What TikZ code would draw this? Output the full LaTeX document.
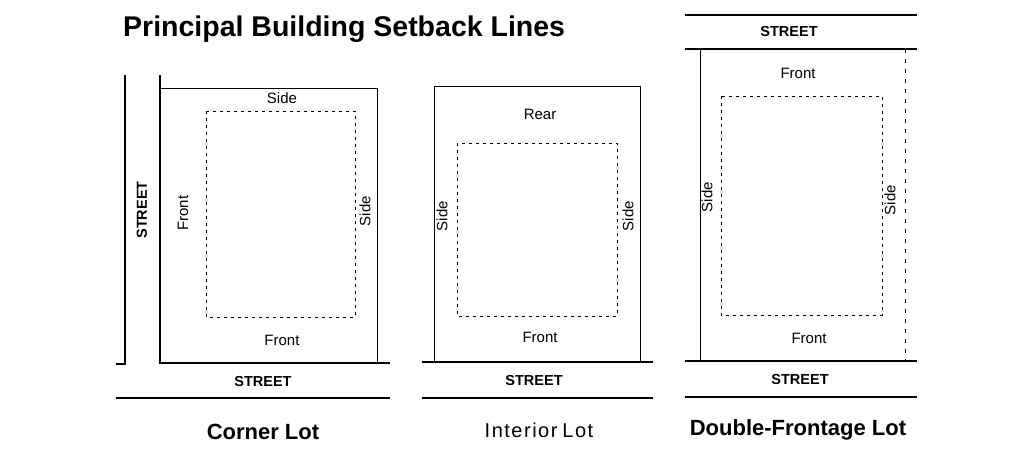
\documentclass[tikz,border=0pt]{standalone}
\usepackage{fontspec}
\setmainfont{Liberation Sans}
\begin{document}
\begin{tikzpicture}[x=1pt,y=-1pt,
  thickline/.style={line width=2.6pt},
  lotline/.style={line width=1pt},
  setback/.style={line width=1pt,dash pattern=on 3pt off 4pt},
  lbl/.style={font=\fontsize{15}{17}\selectfont,inner sep=0pt},
  st/.style={font=\fontsize{14.5}{17}\selectfont\bfseries,inner sep=0pt},
  captionlbl/.style={font=\fontsize{22}{24}\selectfont\bfseries,inner sep=0pt}]
\useasboundingbox (0,0) rectangle (1011,458);
\node[font=\fontsize{28.5}{32}\selectfont\bfseries,inner sep=0pt,anchor=west] (title) at (123,29) {Principal Building Setback Lines};

% ---- Corner lot
\coordinate (cs1) at (125,75);
\coordinate (cs2) at (125,364);
\coordinate (cs3) at (116,364);
\draw[thickline] (cs1) -- (cs2) -- (cs3);
\coordinate (ca) at (160,75);
\coordinate (cb) at (160,363);
\coordinate (cc) at (390,363);
\draw[thickline] (ca) -- (cb) -- (cc);
\coordinate (ct1) at (160,88);
\coordinate (ct2) at (377,88);
\coordinate (ct3) at (377,363);
\draw[lotline] (ct1) -- (ct2) -- (ct3);
\coordinate (cl1) at (116,398);
\coordinate (cl2) at (390,398);
\draw[thickline] (cl1) -- (cl2);
\draw[setback] (206,111) rectangle (355,317);
\node[st,rotate=90] (cstv) at (142,210) {STREET};
\node[st] (csth) at (263,382) {STREET};
\node[lbl] (cside1) at (282,98) {Side};
\node[lbl,rotate=90] (cfront1) at (183,213) {Front};
\node[lbl,rotate=90] (cside2) at (365,211) {Side};
\node[lbl] (cfront2) at (282,340) {Front};
\node[captionlbl] (ccap) at (263,432) {Corner Lot};

% ---- Interior lot
\draw[lotline] (434,362) -- (434,86) -- (640,86) -- (640,362);
\coordinate (ia) at (422,362);
\coordinate (ib) at (653,362);
\draw[thickline] (ia) -- (ib);
\coordinate (ic) at (422,398);
\coordinate (id) at (653,398);
\draw[thickline] (ic) -- (id);
\draw[setback] (457,143) rectangle (617,316);
\node[lbl] (irear) at (540,114) {Rear};
\node[lbl,rotate=90] (iside1) at (442,216) {Side};
\node[lbl,rotate=90] (iside2) at (628,216) {Side};
\node[lbl] (ifront) at (540,337) {Front};
\node[st] (ist) at (534,381) {STREET};
\node[font=\fontsize{20}{22}\selectfont,inner sep=0pt] (icap) at (539,430) {I\kern1.5pt n\kern1.5pt t\kern1.5pt e\kern1.5pt r\kern1.5pt i\kern1.5pt o\kern1.5pt r\kern5pt L\kern1.5pt o\kern1.5pt t};

% ---- Double-frontage lot
\coordinate (da) at (685,15);
\coordinate (db) at (917,15);
\draw[thickline] (da) -- (db);
\coordinate (dc) at (685,49);
\coordinate (dd) at (917,49);
\draw[thickline] (dc) -- (dd);
\draw[lotline] (700,49) -- (700,361);
\draw[line width=0.8pt,dash pattern=on 4pt off 6pt] (905,49) -- (905,361);
\coordinate (de) at (685,361);
\coordinate (df) at (917,361);
\draw[thickline] (de) -- (df);
\coordinate (dg) at (685,397);
\coordinate (dh) at (917,397);
\draw[thickline] (dg) -- (dh);
\draw[setback] (721,96) rectangle (882,315);
\node[st] (dst1) at (789,32) {STREET};
\node[lbl] (dfront1) at (798,73) {Front};
\node[lbl,rotate=90] (dside1) at (707,197) {Side};
\node[lbl,rotate=90] (dside2) at (890,200) {Side};
\node[lbl] (dfront2) at (809,338) {Front};
\node[st] (dst2) at (800,380) {STREET};
\node[captionlbl] (dcap) at (798,430) {Double-Frontage Lot};
\end{tikzpicture}
\end{document}
